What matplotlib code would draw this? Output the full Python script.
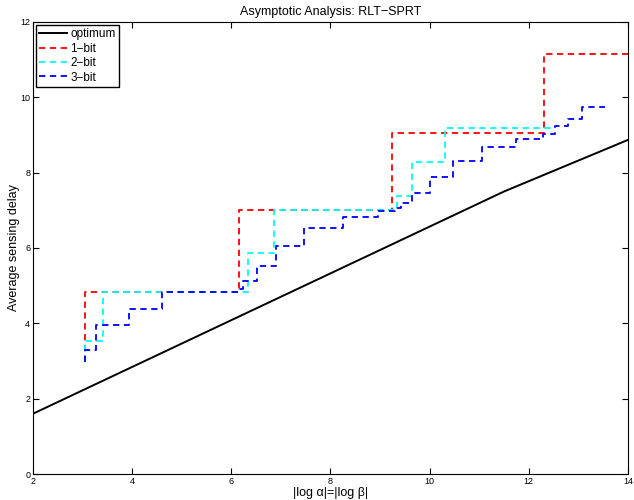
import numpy as np
import matplotlib.pyplot as plt

plt.rcParams['font.family'] = ['Liberation Sans', 'DejaVu Sans']

# optimum curve
opt_x = [2.0, 11.5, 14.0]
opt_y = [1.6, 7.5, 8.87]

# quantized versions (step change points and levels)
bit1_x = [3.055, 3.055, 6.15, 9.25, 12.31, 14.0]
bit1_y = [2.97, 4.82, 7.0, 9.04, 11.15, 11.15]

bit2_x = [3.055, 3.055, 3.42, 6.34, 6.87, 9.34, 9.64, 10.30, 12.53]
bit2_y = [2.97, 3.52, 4.82, 5.87, 7.02, 7.38, 8.28, 9.18, 9.18]

bit3_x = [3.055, 3.055, 3.28, 3.94, 4.60, 6.14, 6.24, 6.51, 6.90, 7.47, 8.26,
          8.96, 9.30, 9.42, 9.65, 10.00, 10.47, 11.05, 11.74, 12.29, 12.53,
          12.80, 13.07, 13.54]
bit3_y = [2.97, 3.28, 3.96, 4.37, 4.82, 4.92, 5.12, 5.53, 6.05, 6.53, 6.81,
          6.97, 7.05, 7.20, 7.47, 7.88, 8.30, 8.68, 8.90, 9.02, 9.23,
          9.43, 9.75, 9.75]

fig = plt.figure(figsize=(6.34, 5.0), dpi=100)
ax = fig.add_axes([0.052, 0.052, 0.9385, 0.904])

dash = (3.5, 2.5)
ax.plot(opt_x, opt_y, color='k', lw=1.4, label='optimum')
ax.plot(bit1_x, bit1_y, color='#ff0000', lw=1.3, ls='--', dashes=dash,
        drawstyle='steps-post', label='1\u2212bit')
ax.plot(bit2_x, bit2_y, color='#00ffff', lw=1.3, ls='--', dashes=dash,
        drawstyle='steps-post', label='2\u2212bit')
ax.plot(bit3_x, bit3_y, color='#0000ff', lw=1.3, ls='--', dashes=dash,
        drawstyle='steps-post', label='3\u2212bit')

ax.set_xlim(2, 14)
ax.set_ylim(0, 12)
ax.set_xticks(np.arange(2, 15, 2))
ax.set_yticks(np.arange(0, 13, 2))
ax.tick_params(direction='in', top=True, right=True, length=4, labelsize=6.5, pad=2)

ax.set_title('Asymptotic Analysis: RLT\u2212SPRT', fontsize=9, pad=5)
ax.set_xlabel('|log \u03b1|=|log \u03b2|', fontsize=9, labelpad=1)
ax.set_ylabel('Average sensing delay', fontsize=9, labelpad=0)

leg = ax.legend(loc='upper left', fontsize=8.5, handlelength=2.3, handletextpad=0.3,
                borderpad=0.3, labelspacing=0.2, borderaxespad=0.25,
                fancybox=False, framealpha=1)
leg.get_frame().set_edgecolor('k')
leg.get_frame().set_linewidth(1.0)

fig.savefig('out.png', dpi=100)
